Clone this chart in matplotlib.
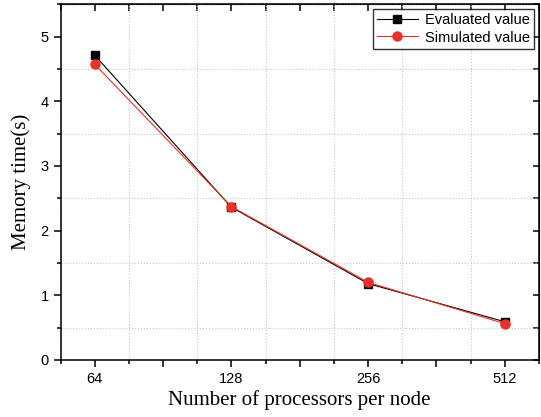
import numpy as np
import matplotlib.pyplot as plt
from matplotlib.ticker import MultipleLocator, FixedLocator, FuncFormatter

procs = ['64', '128', '256', '512']
evaluated = [4.71, 2.36, 1.18, 0.59]
simulated = [4.57, 2.37, 1.20, 0.56]

plt.rcParams['font.family'] = ['Liberation Sans', 'DejaVu Sans']

fig = plt.figure(figsize=(5.41, 4.17), dpi=100)
ax = fig.add_axes([0.112, 0.137, 0.884, 0.853])

x = np.arange(len(procs))
ax.plot(x, evaluated, color='black', lw=0.8, marker='s', ms=6,
        label='Evaluated value', zorder=3)
ax.plot(x, simulated, color='#e8312a', lw=0.8, marker='o', ms=6.5,
        label='Simulated value', zorder=4)

ax.set_xlim(-0.25, 3.25)
ax.set_ylim(0, 5.5)

######################################
# x: long ticks every 0.5, labels only on the real categories
ax.xaxis.set_major_locator(MultipleLocator(0.5))
def xfmt(v, pos):
    i = int(round(v))
    if abs(v - i) < 1e-6 and 0 <= i < len(procs):
        return procs[i]
    return ''
ax.xaxis.set_major_formatter(FuncFormatter(xfmt))
ax.xaxis.set_minor_locator(FixedLocator(np.arange(-0.25, 3.3, 0.5)))

ax.yaxis.set_major_locator(MultipleLocator(1))
ax.yaxis.set_minor_locator(MultipleLocator(0.5))

ax.grid(False)
ax.grid(which='minor', color='#c8c8c8', ls=':', lw=0.8)

ax.tick_params(which='both', direction='out', width=1.1, labelsize=10.5,
               top=False, right=False)
ax.tick_params(which='major', length=5)
ax.tick_params(which='minor', length=3)
ax.tick_params(axis='x', pad=4)

for s in ax.spines.values():
    s.set_linewidth(1.1)

ax.set_xlabel('Number of processors per node', family='Liberation Serif',
              fontsize=15, labelpad=3)
ax.set_ylabel('Memory time(s)', family='Liberation Serif', fontsize=15,
              labelpad=7)

# mirrored ticks on top / right
ax2 = ax.secondary_xaxis('top')
ax2.xaxis.set_major_locator(MultipleLocator(0.5))
ax2.xaxis.set_minor_locator(FixedLocator(np.arange(-0.25, 3.3, 0.5)))
ax2.tick_params(which='both', direction='in', length=5, width=1.1,
                labeltop=False)
ay2 = ax.secondary_yaxis('right')
ay2.yaxis.set_major_locator(MultipleLocator(1))
ay2.yaxis.set_minor_locator(MultipleLocator(0.5))
ay2.tick_params(which='both', direction='in', length=4, width=1.1,
                labelright=False)

leg = ax.legend(loc='upper right', fontsize=10.5, frameon=True, fancybox=False,
                edgecolor='black', borderpad=0.3, handlelength=2.8,
                borderaxespad=0.3, labelspacing=0.25, handletextpad=0.5)
leg.get_frame().set_linewidth(1.0)

plt.savefig('out.png', dpi=100)
